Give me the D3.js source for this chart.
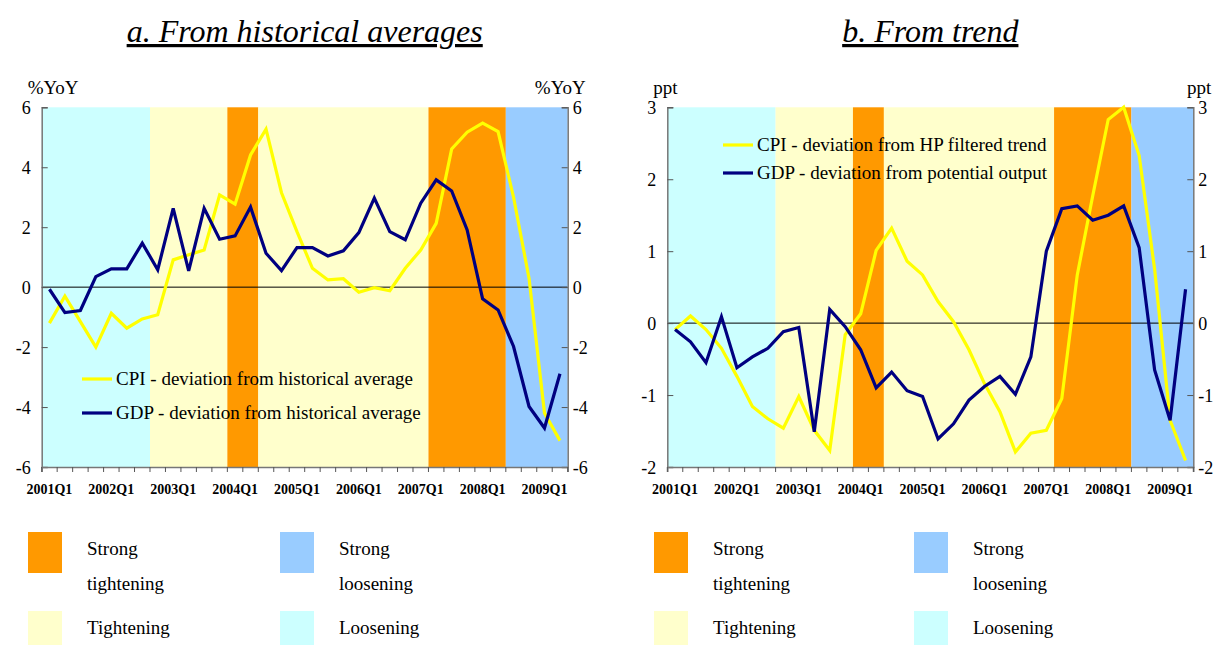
<!DOCTYPE html>
<html>
<head>
<meta charset="utf-8">
<script src="https://cdn.jsdelivr.net/npm/d3@7"></script>
<style>
  body { margin: 0; background: #fff; }
  svg text { font-family: "Liberation Serif", "Times New Roman", Times, "DejaVu Serif", serif; }
</style>
</head>
<body>
<svg width="1221" height="645"></svg>
<script>
var quarters = ["2001Q1","2001Q2","2001Q3","2001Q4","2002Q1","2002Q2","2002Q3","2002Q4",
  "2003Q1","2003Q2","2003Q3","2003Q4","2004Q1","2004Q2","2004Q3","2004Q4",
  "2005Q1","2005Q2","2005Q3","2005Q4","2006Q1","2006Q2","2006Q3","2006Q4",
  "2007Q1","2007Q2","2007Q3","2007Q4","2008Q1","2008Q2","2008Q3","2008Q4",
  "2009Q1","2009Q2"];

// stance periods (first and last quarter of each band)
var regimeFrom = ["2001Q1","2002Q4","2004Q1","2004Q3","2007Q2","2008Q3"];
var regimeTo   = ["2002Q3","2003Q4","2004Q2","2007Q1","2008Q2","2009Q2"];
var regimeType = ["loose","tight","strongTight","tight","strongTight","strongLoose"];

// a. deviation from historical averages (%YoY)
var cpiHist = [-1.2,-0.3,-1.15,-2.0,-0.87,-1.37,-1.06,-0.92,0.91,1.08,1.24,3.08,2.77,4.41,5.27,3.15,
  1.85,0.63,0.24,0.28,-0.17,-0.02,-0.12,0.63,1.24,2.13,4.61,5.17,5.47,5.19,3.0,0.3,-4.2,-5.12];
var gdpHist = [-0.07,-0.85,-0.78,0.35,0.61,0.61,1.47,0.58,2.63,0.54,2.63,1.6,1.71,2.67,1.13,0.55,
  1.32,1.32,1.04,1.21,1.82,2.97,1.85,1.58,2.8,3.58,3.21,1.91,-0.39,-0.76,-1.98,-3.98,-4.7,-2.89];

// b. deviation from trend (ppt)
var cpiTrend = [-0.09,0.1,-0.09,-0.35,-0.74,-1.16,-1.33,-1.46,-1.02,-1.49,-1.77,-0.16,0.13,1.01,1.32,0.86,
  0.67,0.3,0.02,-0.37,-0.84,-1.23,-1.79,-1.53,-1.49,-1.05,0.67,1.77,2.83,3.0,2.33,0.75,-1.35,-1.91];
var gdpTrend = [-0.09,-0.26,-0.55,0.09,-0.62,-0.47,-0.35,-0.12,-0.06,-1.51,0.19,-0.05,-0.37,-0.9,-0.68,-0.94,
  -1.02,-1.61,-1.4,-1.07,-0.88,-0.74,-0.99,-0.47,1.0,1.59,1.63,1.43,1.5,1.63,1.05,-0.65,-1.35,0.47];

var histTicks = [-6,-4,-2,0,2,4,6];
var trendTicks = [-2,-1,0,1,2,3];
var xLabels = ["2001Q1","2002Q1","2003Q1","2004Q1","2005Q1","2006Q1","2007Q1","2008Q1","2009Q1"];

var regimeColor = { loose: "#ccffff", tight: "#ffffcc", strongTight: "#ff9900", strongLoose: "#99ccff" };
var cpiColor = "#ffff00", gdpColor = "#000080";

var svg = d3.select("svg");

function drawPanel(opt) {
  var x = d3.scaleBand().domain(quarters).range([opt.left, opt.left + 526]).padding(0);
  var y = d3.scaleLinear().domain(opt.domain).range([467, 107.3]);
  var g = svg.append("g");

  // title
  g.append("text")
    .attr("x", opt.left + 263).attr("y", 42)
    .attr("text-anchor", "middle")
    .style("font-size", "32px").style("font-style", "italic")
    .style("text-decoration", "underline")
    .text(opt.title);

  // shaded bands
  g.selectAll(".band")
    .data(regimeType)
    .enter().append("rect")
      .attr("x", function(d, i) { return x(regimeFrom[i]); })
      .attr("width", function(d, i) { return x(regimeTo[i]) + x.bandwidth() - x(regimeFrom[i]); })
      .attr("y", y.range()[1])
      .attr("height", y.range()[0] - y.range()[1])
      .style("fill", function(d) { return regimeColor[d]; });

  // zero line
  g.append("line")
    .attr("x1", opt.left).attr("x2", opt.left + 526)
    .attr("y1", y(0)).attr("y2", y(0))
    .style("stroke", "#000").style("stroke-width", 1);

  // axes
  var left = g.append("g").attr("transform", "translate(" + opt.left + ",0)")
    .call(d3.axisRight(y).tickValues(opt.ticks).tickSize(6).tickFormat(""));
  var right = g.append("g").attr("transform", "translate(" + (opt.left + 526) + ",0)")
    .call(d3.axisLeft(y).tickValues(opt.ticks).tickSize(6).tickFormat(""));
  var bottom = g.append("g").attr("transform", "translate(0," + y.range()[0] + ")")
    .call(d3.axisBottom(x).tickValues(quarters).tickSize(5).tickFormat(""));
  bottom.selectAll(".tick line").attr("transform", "translate(" + (-x.bandwidth() / 2) + ",0)");
  bottom.append("line")
    .attr("x1", opt.left + 526).attr("x2", opt.left + 526)
    .attr("y1", 0).attr("y2", 5).style("stroke", "#555");
  [left, right, bottom].forEach(function(a) {
    a.select(".domain").style("stroke", "#777").style("stroke-width", 1.5);
    a.selectAll(".tick line").style("stroke", "#555");
  });

  // tick labels
  g.selectAll(".ly").data(opt.ticks).enter().append("text")
    .attr("x", opt.left - 11).attr("y", function(d) { return y(d) + 7; })
    .attr("text-anchor", "end").style("font-size", "18px")
    .text(function(d) { return d; });
  g.selectAll(".ry").data(opt.ticks).enter().append("text")
    .attr("x", opt.left + 526 + 5).attr("y", function(d) { return y(d) + 7; })
    .attr("text-anchor", "start").style("font-size", "18px")
    .text(function(d) { return d; });
  g.selectAll(".lx").data(xLabels).enter().append("text")
    .attr("x", function(d) { return x(d) + x.bandwidth() / 2; })
    .attr("y", 494)
    .attr("text-anchor", "middle").style("font-size", "14px").style("font-weight", "bold")
    .text(function(d) { return d; });

  // unit labels
  g.append("text").attr("x", opt.left - 14).attr("y", 93.5)
    .style("font-size", "19px").text(opt.unit);
  g.append("text").attr("x", opt.left + 526 + 18).attr("y", 93.5)
    .attr("text-anchor", "end").style("font-size", "19px").text(opt.unit);

  // lines
  var line = d3.line()
    .x(function(d, i) { return x(quarters[i]) + x.bandwidth() / 2; })
    .y(function(d) { return y(d); });
  g.append("path").datum(opt.cpi).attr("d", line)
    .style("fill", "none").style("stroke", cpiColor).style("stroke-width", 3.2);
  g.append("path").datum(opt.gdp).attr("d", line)
    .style("fill", "none").style("stroke", gdpColor).style("stroke-width", 3.2);

  // in-chart legend
  var leg = g.append("g").attr("transform", "translate(" + opt.legX + "," + opt.legY + ")");
  [[opt.cpiLabel, cpiColor], [opt.gdpLabel, gdpColor]].forEach(function(e, i) {
    leg.append("line").attr("x1", 0).attr("x2", 30)
      .attr("y1", i * opt.legGap).attr("y2", i * opt.legGap)
      .style("stroke", e[1]).style("stroke-width", 3.2);
    leg.append("text").attr("x", 34).attr("y", i * opt.legGap + 6)
      .style("font-size", "19px").text(e[0]);
  });

  // bottom legend
  var keys = [
    { c: regimeColor.strongTight, t: ["Strong", "tightening"], dx: 0, dy: 0 },
    { c: regimeColor.strongLoose, t: ["Strong", "loosening"], dx: opt.keyGap, dy: 0 },
    { c: regimeColor.tight, t: ["Tightening"], dx: 0, dy: 79 },
    { c: regimeColor.loose, t: ["Loosening"], dx: opt.keyGap, dy: 79 }
  ];
  keys.forEach(function(k) {
    svg.append("rect").attr("x", opt.keyX + k.dx).attr("y", 532 + k.dy)
      .attr("width", 34).attr("height", k.dy ? 35 : 41).style("fill", k.c);
    k.t.forEach(function(s, j) {
      svg.append("text").attr("x", opt.keyX + k.dx + 59).attr("y", 555 + k.dy + j * 35)
        .style("font-size", "19px").text(s);
    });
  });
}

drawPanel({
  left: 41.7, domain: [-6, 6], ticks: histTicks, unit: "%YoY",
  title: "a. From historical averages",
  cpi: cpiHist, gdp: gdpHist,
  cpiLabel: "CPI - deviation from historical average",
  gdpLabel: "GDP - deviation from historical average",
  legX: 82, legY: 379, legGap: 34,
  keyX: 28, keyGap: 252
});

drawPanel({
  left: 667.3, domain: [-2, 3], ticks: trendTicks, unit: "ppt",
  title: "b. From trend",
  cpi: cpiTrend, gdp: gdpTrend,
  cpiLabel: "CPI - deviation from HP filtered trend",
  gdpLabel: "GDP - deviation from potential output",
  legX: 723, legY: 145, legGap: 28,
  keyX: 654, keyGap: 260
});
</script>
</body>
</html>
